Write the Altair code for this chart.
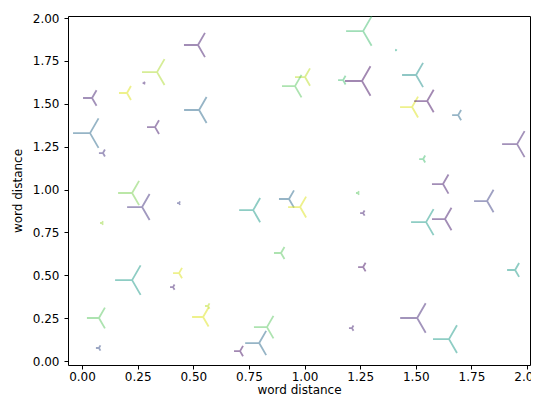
import altair as alt
import pandas as pd

xs = [0.521, 0.337, 0.279, 0.202, 0.045, 0.526, 0.328, 0.036, 0.094, 1.263,
      1.411, 1.002, 0.957, 1.173, 1.258, 1.501, 1.483, 1.551, 1.690, 1.955,
      1.533, 1.622, 0.225, 0.270, 0.436, 0.090, 0.769, 0.930, 0.980, 0.894,
      0.225, 0.436, 0.409, 0.076, 0.544, 0.566, 0.831, 0.796, 0.710, 0.076,
      1.240, 1.263, 1.546, 1.631, 1.820, 1.263, 1.946, 1.506, 1.213, 1.649]
ys = [1.843, 1.685, 1.621, 1.563, 1.534, 1.464, 1.364, 1.329, 1.213, 1.924,
      1.813, 1.656, 1.603, 1.638, 1.633, 1.668, 1.481, 1.516, 1.434, 1.265,
      1.178, 1.032, 0.980, 0.898, 0.921, 0.805, 0.880, 0.945, 0.898, 0.630,
      0.472, 0.513, 0.431, 0.251, 0.257, 0.321, 0.198, 0.105, 0.058, 0.076,
      0.980, 0.863, 0.810, 0.828, 0.933, 0.548, 0.531, 0.251, 0.192, 0.128]
# marker arm lengths (px)
arms = [14, 15, 1.5, 8, 9, 15, 8, 17, 4, 17,
        1, 10, 13, 5, 17, 14, 12, 13, 6, 15,
        4, 11, 14, 15, 2, 2, 14, 10, 12, 7,
        17, 6, 3, 12, 11, 3, 13, 14, 6, 3,
        2, 3, 15, 13, 13, 5, 8, 17, 3, 16]
colors = [0.08, 0.88, 0.1, 0.95, 0.1, 0.35, 0.08, 0.35, 0.15, 0.7,
          0.6, 0.9, 0.75, 0.7, 0.05, 0.5, 0.95, 0.05, 0.35, 0.1,
          0.7, 0.08, 0.8, 0.15, 0.2, 0.85, 0.55, 0.35, 0.95, 0.75,
          0.55, 0.95, 0.1, 0.75, 0.95, 0.9, 0.75, 0.35, 0.05, 0.25,
          0.75, 0.1, 0.55, 0.08, 0.2, 0.05, 0.55, 0.12, 0.1, 0.55]

df = pd.DataFrame({"x": xs, "y": ys, "arm": arms, "c": colors})
df["s"] = 4 * df["arm"] ** 2

tri_left = "M0,0L-1,0M0,0L0.5,-0.866M0,0L0.5,0.866"

ticks = [0, 0.25, 0.5, 0.75, 1.0, 1.25, 1.5, 1.75, 2.0]

chart = alt.Chart(df).mark_point(
    shape=tri_left, filled=False, strokeWidth=1.8, opacity=0.5
).encode(
    x=alt.X("x:Q", scale=alt.Scale(domain=[-0.063, 2.013], nice=False, zero=False),
            axis=alt.Axis(values=ticks, format=".2f", title="word distance",
                          labelPadding=2, titlePadding=2)),
    y=alt.Y("y:Q", scale=alt.Scale(domain=[-0.023, 2.012], nice=False, zero=False),
            axis=alt.Axis(values=ticks, format=".2f", title="word distance",
                          labelPadding=5, titlePadding=8)),
    size=alt.Size("s:Q", scale=None, legend=None),
    color=alt.Color("c:Q", scale=alt.Scale(scheme="viridis", domain=[0, 1]), legend=None),
).properties(
    width=462, height=349,
    autosize=alt.AutoSizeParams(type="none"),
    padding={"left": 60, "top": 8, "right": 1, "bottom": 32},
).configure_view(
    stroke="black", strokeWidth=1
).configure_axis(
    grid=False, domain=False, tickColor="black", tickSize=4, tickWidth=1,
    labelFont="DejaVu Sans", labelFontSize=12, labelColor="black",
    titleFont="DejaVu Sans", titleFontSize=12, titleFontWeight="normal", titleColor="black",
)

chart.save("out.html", embed_options={"renderer": "svg", "actions": False})
